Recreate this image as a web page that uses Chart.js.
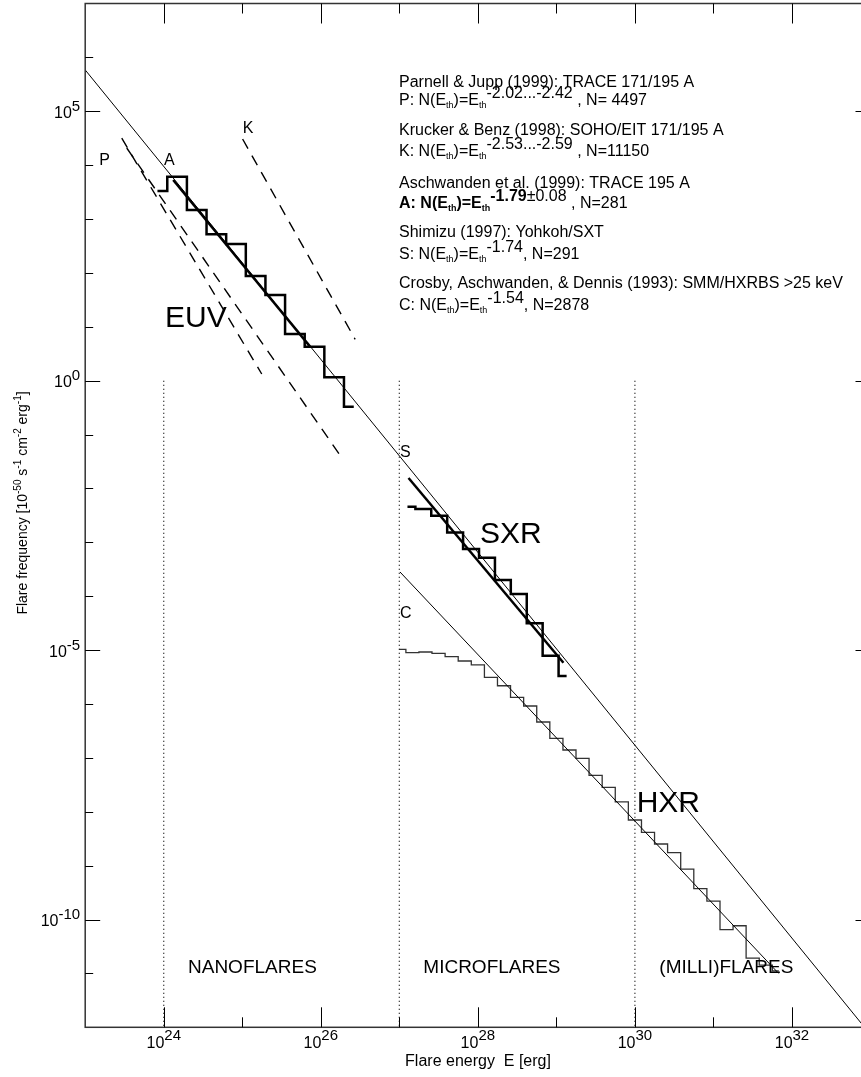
<!DOCTYPE html>
<html><head><meta charset="utf-8">
<script src="https://cdn.jsdelivr.net/npm/chart.js@4.4.1/dist/chart.umd.min.js"></script>
<style>html,body{margin:0;padding:0;background:#fff;overflow:hidden}#wrap{width:861px;height:1077px;position:relative;overflow:hidden}canvas{display:block}</style>
</head><body><div id="wrap"><canvas id="c" width="875" height="1077"></canvas></div>
<script>
const FONT = '"Liberation Sans", Arial, Helvetica, sans-serif';

// ---- axis ranges and ticks ----
const xMin = 1e23, xMax = 1e33;
const yMin = 1e-12, yMax = 1e7;
const xMajorTicks = [1e24, 1e26, 1e28, 1e30, 1e32];
const xMajorExp = ['24', '26', '28', '30', '32'];
const xMinorTicks = [1e25, 1e27, 1e29, 1e31];
const yMajorTicks = [1e5, 1e0, 1e-5, 1e-10];
const yMajorExp = ['5', '0', '-5', '-10'];
const yMinorTicks = [1e6, 1e4, 1e3, 1e2, 1e1, 1e-1, 1e-2, 1e-3, 1e-4, 1e-6, 1e-7, 1e-8, 1e-9, 1e-11];

// ---- region boundaries (dotted verticals) ----
const regionBounds = [1e24, 1e27, 1e30];
const regionTop = 1e0;

// ---- power-law fit lines ----
const mainLineE = [1e23, 8.4e32];
const mainLineN = [5.85e5, 1e-12];
const aFitE = [1.32e24, 7.31e25];
const aFitN = [5.31e3, 4.28];
const sFitE = [1.31e27, 1.23e29];
const sFitN = [1.56e-2, 5.83e-6];
const cFitE = [1.02e27, 6.76e31];
const cFitN = [2.82e-4, 1.0e-11];
const p1E = [2.92e23, 1.77e25];
const p1N = [3.16e4, 1.33];
const p2E = [3.38e23, 1.94e26];
const p2N = [2.08e4, 3.37e-2];
const kE = [1.01e25, 2.74e26];
const kN = [3.06e4, 5.86];

// ---- histograms ----
const aHistE = [8.32e23, 1.48e24, 2.63e24, 4.68e24, 8.32e24, 1.48e25, 2.63e25, 4.68e25, 8.32e25, 1.48e26, 2.63e26];
const aHistN = [3.32e3, 6.11e3, 1.47e3, 521, 344, 87.7, 39.0, 7.36, 4.28, 1.156, 0.329];
const sHistE = [1.27e27, 2.02e27, 3.22e27, 5.14e27, 8.18e27, 1.31e28, 2.08e28, 3.32e28, 5.30e28, 8.43e28, 1.35e29];
const sHistN = [4.58e-3, 4.16e-3, 3.12e-3, 1.53e-3, 7.52e-4, 5.19e-4, 2.00e-4, 1.10e-4, 3.14e-5, 7.87e-6, 3.30e-6];
const cHistE = [1.00e27, 1.47e27, 2.15e27, 3.16e27, 4.64e27, 6.81e27, 1.00e28, 1.47e28, 2.15e28, 3.16e28,
                4.64e28, 6.81e28, 1.00e29, 1.47e29, 2.15e29, 3.16e29, 4.64e29, 6.81e29, 1.00e30, 1.47e30,
                2.15e30, 3.16e30, 4.64e30, 6.81e30, 1.00e31, 1.47e31, 2.15e31, 3.16e31, 4.64e31, 6.81e31];
const cHistN = [1.035e-5, 8.95e-6, 9.23e-6, 8.73e-6, 7.55e-6, 6.28e-6, 5.30e-6, 3.13e-6, 2.18e-6, 1.33e-6,
                9.18e-7, 4.63e-7, 2.31e-7, 1.40e-7, 9.82e-8, 4.74e-8, 2.84e-8, 1.53e-8, 7.03e-9, 4.16e-9,
                2.52e-9, 1.75e-9, 8.59e-10, 3.74e-10, 2.20e-10, 6.50e-11, 7.67e-11, 1.93e-11, 1.43e-11, 1.11e-11];

function pts(E, N) { return E.map((e, i) => ({ x: e, y: N[i] })); }
function ds(E, N, extra) {
  return Object.assign({ data: pts(E, N), borderColor: '#000', borderWidth: 1, pointRadius: 0, fill: false, tension: 0 }, extra);
}

const datasets = [];
regionBounds.forEach(b => datasets.push(ds([b, b], [regionTop, yMin], { borderWidth: 1.2, borderDash: [1, 3] })));
datasets.push(ds(p1E, p1N, { borderWidth: 1.4, borderDash: [11, 8] }));
datasets.push(ds(p2E, p2N, { borderWidth: 1.4, borderDash: [11, 8] }));
datasets.push(ds(kE, kN, { borderWidth: 1.4, borderDash: [11, 8] }));
datasets.push(ds(mainLineE, mainLineN, { borderWidth: 1 }));
datasets.push(ds(cFitE, cFitN, { borderWidth: 1 }));
datasets.push(ds(cHistE, cHistN, { borderWidth: 1.3, borderColor: '#333', stepped: 'middle' }));
datasets.push(ds(aFitE, aFitN, { borderWidth: 2.5 }));
datasets.push(ds(aHistE, aHistN, { borderWidth: 2.5, stepped: 'middle' }));
datasets.push(ds(sFitE, sFitN, { borderWidth: 2.5 }));
datasets.push(ds(sHistE, sHistN, { borderWidth: 2.5, stepped: 'middle' }));

function rich(ctx, x, y, parts, align) {
  const w = parts.map(p => { ctx.font = (p[3] || 'normal') + ' ' + p[1] + 'px ' + FONT; return ctx.measureText(p[0]).width; });
  const total = w.reduce((a, b) => a + b, 0);
  let cx = align === 'center' ? x - total / 2 : (align === 'right' ? x - total : x);
  parts.forEach((p, i) => {
    ctx.font = (p[3] || 'normal') + ' ' + p[1] + 'px ' + FONT;
    ctx.fillText(p[0], cx, y + (p[2] || 0));
    cx += w[i];
  });
}

const decor = {
  id: 'decor',
  afterDraw(chart) {
    const ctx = chart.ctx, xs = chart.scales.x, ys = chart.scales.y, a = chart.chartArea;
    ctx.save();
    ctx.fillStyle = '#000'; ctx.textAlign = 'left'; ctx.textBaseline = 'alphabetic';
    // frame
    ctx.strokeStyle = '#333'; ctx.lineWidth = 1.5;
    ctx.strokeRect(a.left, a.top, a.right - a.left, a.bottom - a.top);
    // ticks
    ctx.strokeStyle = '#000'; ctx.lineWidth = 1;
    ctx.beginPath();
    xMajorTicks.forEach(v => { const p = Math.round(xs.getPixelForValue(v)) + 0.5;
      ctx.moveTo(p, a.bottom); ctx.lineTo(p, a.bottom - 20); ctx.moveTo(p, a.top); ctx.lineTo(p, a.top + 20); });
    xMinorTicks.forEach(v => { const p = Math.round(xs.getPixelForValue(v)) + 0.5;
      ctx.moveTo(p, a.bottom); ctx.lineTo(p, a.bottom - 10); ctx.moveTo(p, a.top); ctx.lineTo(p, a.top + 10); });
    yMajorTicks.forEach(v => { const p = Math.round(ys.getPixelForValue(v)) + 0.5;
      ctx.moveTo(a.left, p); ctx.lineTo(a.left + 15, p); ctx.moveTo(a.right, p); ctx.lineTo(a.right - 15, p); });
    yMinorTicks.forEach(v => { const p = Math.round(ys.getPixelForValue(v)) + 0.5;
      ctx.moveTo(a.left, p); ctx.lineTo(a.left + 8, p); ctx.moveTo(a.right, p); ctx.lineTo(a.right - 8, p); });
    ctx.stroke();
    // tick labels
    xMajorTicks.forEach((v, i) => rich(ctx, xs.getPixelForValue(v), a.bottom + 21, [['10', 16, 0], [xMajorExp[i], 15, -8]], 'center'));
    yMajorTicks.forEach((v, i) => rich(ctx, a.left - 5, ys.getPixelForValue(v) + 6.4, [['10', 16, 0], [yMajorExp[i], 15, -7]], 'right'));
    // axis titles
    rich(ctx, 478, 1066, [['Flare energy  E [erg]', 16, 0]], 'center');
    ctx.save(); ctx.translate(27, 503); ctx.rotate(-Math.PI / 2);
    rich(ctx, 0, 0, [['Flare frequency [10', 14, 0], ['-50', 10, -6], [' s', 14, 0], ['-1', 10, -6], [' cm', 14, 0], ['-2', 10, -6], [' erg', 14, 0], ['-1', 10, -6], [']', 14, 0]], 'center');
    ctx.restore();
    // legend-like text block
    const L = 399, f = 16;
    rich(ctx, L, 86.7, [['Parnell & Jupp (1999): TRACE 171/195 A', f]]);
    rich(ctx, L, 105, [['P: N(E', f], ['th', 9, 3], [')=E', f], ['th', 9, 3], ['-2.02...-2.42', f, -7], [' , N= 4497', f]]);
    rich(ctx, L, 134.5, [['Krucker & Benz (1998): SOHO/EIT 171/195 A', f]]);
    rich(ctx, L, 156, [['K: N(E', f], ['th', 9, 3], [')=E', f], ['th', 9, 3], ['-2.53...-2.59', f, -7], [' , N=11150', f]]);
    rich(ctx, L, 188.3, [['Aschwanden et al. (1999): TRACE 195 A', f]]);
    rich(ctx, L, 208.3, [['A: N(E', f, 0, 'bold'], ['th', 9, 3, 'bold'], [')=E', f, 0, 'bold'], ['th', 9, 3, 'bold'], ['-1.79', f, -7, 'bold'], ['\u00b10.08', f, -7], [' , N=281', f]]);
    rich(ctx, L, 236.5, [['Shimizu (1997): Yohkoh/SXT', f]]);
    rich(ctx, L, 259, [['S: N(E', f], ['th', 9, 3], [')=E', f], ['th', 9, 3], ['-1.74', f, -7], [', N=291', f]]);
    rich(ctx, L, 288, [['Crosby, Aschwanden, & Dennis (1993): SMM/HXRBS >25 keV', f]]);
    rich(ctx, L, 310, [['C: N(E', f], ['th', 9, 3], [')=E', f], ['th', 9, 3], ['-1.54', f, -7], [', N=2878', f]]);
    // curve letters
    rich(ctx, 99.3, 165, [['P', 16]]);
    rich(ctx, 164, 165, [['A', 16]]);
    rich(ctx, 242.7, 132.7, [['K', 16]]);
    rich(ctx, 400, 457, [['S', 16]]);
    rich(ctx, 400, 618, [['C', 16]]);
    // band labels
    rich(ctx, 165, 326.7, [['EUV', 30]]);
    rich(ctx, 480, 542.7, [['SXR', 30]]);
    rich(ctx, 636.7, 811.7, [['HXR', 30]]);
    rich(ctx, 188, 973.3, [['NANOFLARES', 19]]);
    rich(ctx, 423.3, 973.3, [['MICROFLARES', 19]]);
    rich(ctx, 659.3, 973.3, [['(MILLI)FLARES', 19]]);
    ctx.restore();
  }
};

new Chart(document.getElementById('c'), {
  type: 'line',
  data: { datasets },
  options: {
    responsive: false, animation: false, devicePixelRatio: 1,
    layout: { padding: { left: 85.2, right: 4.5, top: 3.5, bottom: 49.7 } },
    plugins: { legend: { display: false }, tooltip: { enabled: false } },
    elements: { point: { radius: 0 } },
    scales: {
      x: { type: 'logarithmic', min: xMin, max: xMax, display: false },
      y: { type: 'logarithmic', min: yMin, max: yMax, display: false }
    }
  },
  plugins: [decor]
});
</script></body></html>
